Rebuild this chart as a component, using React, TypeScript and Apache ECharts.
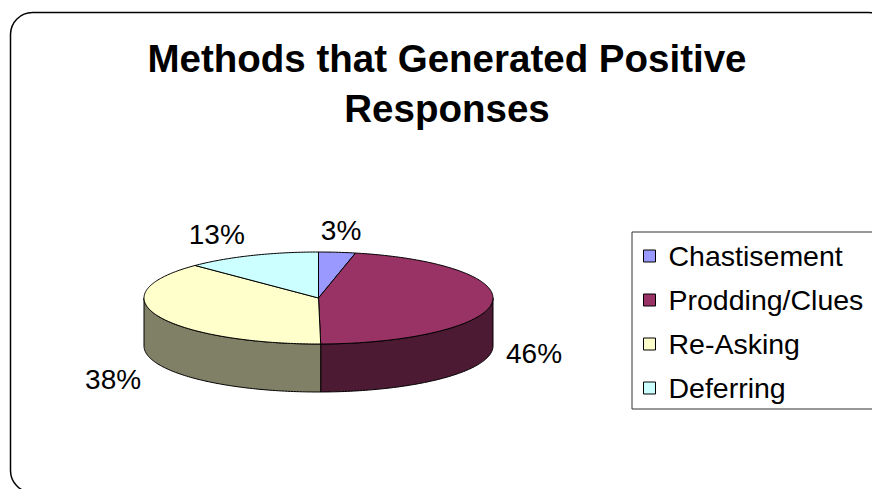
import React, { useEffect, useRef } from 'react';
import * as echarts from 'echarts';

const categories = ['Chastisement', 'Prodding/Clues', 'Re-Asking', 'Deferring'];
const values = [3.4, 46.4, 37.7, 12.5];
const titleText = 'Methods that Generated Positive\nResponses';

const palette = ['#9999FF', '#993366', '#FFFFCC', '#CCFFFF'];
const FONT = '"Liberation Sans", Arial, Helvetica, sans-serif';

const PIE = { cx: 318.5, cy: 298, rx: 174.5, ry: 46, depth: 48 };

function shade(hex: string, f: number) {
  const n = parseInt(hex.slice(1), 16);
  const r = Math.round(((n >> 16) & 255) * f);
  const g = Math.round(((n >> 8) & 255) * f);
  const b = Math.round((n & 255) * f);
  return 'rgb(' + r + ',' + g + ',' + b + ')';
}

function pt(deg: number, dy: number) {
  const r = (deg * Math.PI) / 180;
  return [PIE.cx + PIE.rx * Math.sin(r), PIE.cy - PIE.ry * Math.cos(r) + dy];
}

function arc(a0: number, a1: number, dy: number) {
  const pts: number[][] = [];
  const n = Math.max(2, Math.ceil(Math.abs(a1 - a0)));
  for (let i = 0; i <= n; i++) pts.push(pt(a0 + ((a1 - a0) * i) / n, dy));
  return pts;
}

function renderSlice(params: any, api: any) {
  const si = params.seriesIndex;
  const total = values.reduce((a, b) => a + b, 0);
  let before = 0;
  for (let i = 0; i < si; i++) before += values[i];
  const v = api.value(0);
  const a0 = (before / total) * 360;
  const a1 = ((before + v) / total) * 360;
  const color = palette[si];
  const children: any[] = [];
  const f0 = Math.max(a0, 90);
  const f1 = Math.min(a1, 270);
  if (f1 > f0) {
    const top = arc(f0, f1, 0);
    const bot = arc(f1, f0, PIE.depth);
    children.push({
      type: 'polygon',
      z2: 1,
      shape: { points: top.concat(bot) },
      style: { fill: shade(color, 0.5), stroke: '#000', lineWidth: 1 },
    });
  }
  children.push({
    type: 'polygon',
    z2: 2,
    shape: { points: [[PIE.cx, PIE.cy]].concat(arc(a0, a1, 0)) },
    style: { fill: color, stroke: '#000', lineWidth: 1, lineJoin: 'round' },
  });
  const mid = ((a0 + a1) / 2) * (Math.PI / 180);
  const s = Math.sin(mid);
  const c = Math.cos(mid);
  const ax = PIE.cx + PIE.rx * s;
  const ay = PIE.cy - PIE.ry * c + (c < 0 ? PIE.depth : 0);
  const align = Math.abs(s) < 0.3 ? 'center' : s > 0 ? 'left' : 'right';
  const valign = Math.abs(c) < 0.2 ? 'middle' : c > 0 ? 'bottom' : 'top';
  const lx = align === 'center' ? ax + 4 : ax + (s > 0 ? 14 : 18) * s;
  const ly = valign === 'middle' ? ay + 3 : c > 0 ? ay - 8 * c : ay - 4 * c;
  children.push({
    type: 'text',
    z2: 5,
    x: lx,
    y: ly,
    style: {
      text: Math.round((v / total) * 100) + '%',
      font: '28px ' + FONT,
      fill: '#000',
      align,
      verticalAlign: valign,
    },
  });
  return { type: 'group', children };
}

export default function App() {
  const ref = useRef<HTMLDivElement>(null);
  useEffect(() => {
    if (!ref.current) return;
    const chart = echarts.init(ref.current, undefined, { renderer: 'svg' });
    chart.setOption({
      animation: false,
      backgroundColor: '#fff',
      title: {
        text: titleText,
        left: 442,
        top: 28,
        textAlign: 'center',
        textStyle: {
          fontFamily: FONT,
          fontSize: 38.5,
          fontWeight: 'bold',
          color: '#000',
          lineHeight: 50,
        },
      },
      legend: {
        orient: 'vertical',
        left: 632,
        top: 232,
        data: categories,
        icon: 'rect',
        itemWidth: 12,
        itemHeight: 12,
        itemGap: 14,
        padding: [9, 80, 6, 11],
        borderColor: '#333',
        borderWidth: 1,
        itemStyle: { borderColor: '#000', borderWidth: 1 },
        textStyle: {
          fontFamily: FONT,
          fontSize: 28.5,
          color: '#000',
          lineHeight: 30,
          padding: [0, 0, 0, 8],
        },
      },
      graphic: [
        {
          type: 'rect',
          shape: { x: 10.5, y: 12.5, width: 880, height: 480, r: 22 },
          style: { fill: 'none', stroke: '#000', lineWidth: 1.5 },
          z: -1,
          silent: true,
        },
      ],
      series: categories.map((name, i) => ({
        type: 'custom',
        name,
        coordinateSystem: 'none',
        itemStyle: { color: palette[i] },
        data: [[values[i]]],
        renderItem: renderSlice,
      })),
    });
    return () => chart.dispose();
  }, []);
  return (
    <div
      ref={ref}
      style={{ position: 'fixed', left: 0, top: 0, width: 872, height: 489 }}
    />
  );
}
